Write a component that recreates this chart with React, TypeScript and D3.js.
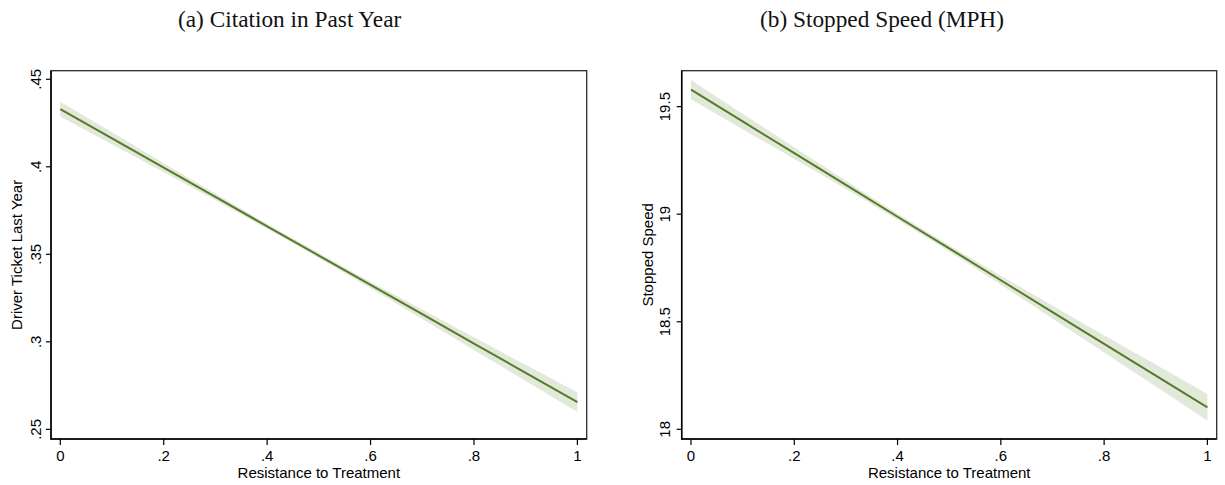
import React from "react";
import * as d3 from "d3";

// Predicted values with 95% confidence band, evaluated on a grid of x
const gridX = [0, 0.1, 0.2, 0.3, 0.4, 0.5, 0.6, 0.7, 0.8, 0.9, 1];

const ticketFit = [0.433, 0.4163, 0.3995, 0.3828, 0.366, 0.3493, 0.3325, 0.3158, 0.299, 0.2823, 0.2655];
const ticketLo = [0.4288, 0.4129, 0.3969, 0.3809, 0.3646, 0.3479, 0.3306, 0.3131, 0.2954, 0.2777, 0.2599];
const ticketHi = [0.4372, 0.4197, 0.4021, 0.3847, 0.3674, 0.3507, 0.3344, 0.3185, 0.3026, 0.2869, 0.2711];

const speedFit = [19.579, 19.431, 19.284, 19.136, 18.988, 18.841, 18.693, 18.545, 18.397, 18.25, 18.102];
const speedLo = [19.534, 19.395, 19.257, 19.117, 18.974, 18.826, 18.672, 18.515, 18.357, 18.199, 18.04];
const speedHi = [19.624, 19.467, 19.311, 19.155, 19.002, 18.856, 18.714, 18.575, 18.437, 18.301, 18.164];

const xTicks = [0, 0.2, 0.4, 0.6, 0.8, 1];
const xTickLabels = ["0", ".2", ".4", ".6", ".8", "1"];

const ticketTicks = [0.25, 0.3, 0.35, 0.4, 0.45];
const ticketTickLabels = [".25", ".3", ".35", ".4", ".45"];

const speedTicks = [18, 18.5, 19, 19.5];
const speedTickLabels = ["18", "18.5", "19", "19.5"];

const LINE = "#567b28";
const BAND = "#e2e9da";
const SANS = "'Liberation Sans', Arial, Helvetica, sans-serif";
const SERIF = "'Liberation Serif', 'Times New Roman', serif";
const FS = 15;

type PanelProps = {
  left: number;
  right: number;
  top: number;
  bottom: number;
  xDomain: [number, number];
  yDomain: [number, number];
  fit: number[];
  lo: number[];
  hi: number[];
  yTicks: number[];
  yTickLabels: string[];
  yTitle: string;
  yTickLabelX: number;
  yTitleX: number;
  title: string;
  titleX: number;
};

function Panel(p: PanelProps) {
  const x = d3.scaleLinear().domain(p.xDomain).range([p.left, p.right]);
  const y = d3.scaleLinear().domain(p.yDomain).range([p.bottom, p.top]);

  const rows = gridX.map((gx, i) => ({ x: gx, fit: p.fit[i], lo: p.lo[i], hi: p.hi[i] }));

  const band = d3
    .area<(typeof rows)[number]>()
    .x((d) => x(d.x))
    .y0((d) => y(d.lo))
    .y1((d) => y(d.hi))
    .curve(d3.curveMonotoneX)(rows) as string;

  const line = d3
    .line<(typeof rows)[number]>()
    .x((d) => x(d.x))
    .y((d) => y(d.fit))(rows) as string;

  const midY = (p.top + p.bottom) / 2;
  const midX = (p.left + p.right) / 2;

  return (
    <g>
      <text x={p.titleX} y={27} fontFamily={SERIF} fontSize={23.3} fill="#111">
        {p.title}
      </text>

      <path d={band} fill={BAND} stroke="none" />
      <path d={line} fill="none" stroke={LINE} strokeWidth={2} />

      {/* plot region frame */}
      <rect
        x={p.left}
        y={p.top}
        width={p.right - p.left}
        height={p.bottom - p.top}
        fill="none"
        stroke="#2a2a2a"
        strokeWidth={1.3}
      />
      <line x1={p.left} x2={p.left} y1={p.top} y2={p.bottom + 0.7} stroke="#000" strokeWidth={1.5} />
      <line x1={p.left} x2={p.right} y1={p.bottom} y2={p.bottom} stroke="#000" strokeWidth={1.5} />

      {/* y axis */}
      {p.yTicks.map((t, i) => (
        <g key={"y" + i}>
          <line x1={p.left - 5} x2={p.left} y1={y(t)} y2={y(t)} stroke="#000" strokeWidth={1.2} />
          <text
            transform={`translate(${p.yTickLabelX},${y(t)}) rotate(-90)`}
            textAnchor="middle"
            fontFamily={SANS}
            fontSize={FS}
            fill="#000"
          >
            {p.yTickLabels[i]}
          </text>
        </g>
      ))}
      <text
        transform={`translate(${p.yTitleX},${midY}) rotate(-90)`}
        textAnchor="middle"
        fontFamily={SANS}
        fontSize={FS}
        fill="#000"
      >
        {p.yTitle}
      </text>

      {/* x axis */}
      {xTicks.map((t, i) => (
        <g key={"x" + i}>
          <line x1={x(t)} x2={x(t)} y1={p.bottom} y2={p.bottom + 6} stroke="#000" strokeWidth={1.2} />
          <text x={x(t)} y={p.bottom + 22} textAnchor="middle" fontFamily={SANS} fontSize={FS} fill="#000">
            {xTickLabels[i]}
          </text>
        </g>
      ))}
      <text x={midX} y={478} textAnchor="middle" fontFamily={SANS} fontSize={FS} fill="#000">
        Resistance to Treatment
      </text>
    </g>
  );
}

export default function App() {
  return (
    <svg
      width={1225}
      height={485}
      style={{ position: "absolute", left: 0, top: 0, background: "#fff" }}
    >
      <rect width={1225} height={485} fill="#fff" />
      <Panel
        left={51}
        right={586.7}
        top={70.7}
        bottom={439}
        xDomain={[-0.018, 1.018]}
        yDomain={[0.2445, 0.4549]}
        fit={ticketFit}
        lo={ticketLo}
        hi={ticketHi}
        yTicks={ticketTicks}
        yTickLabels={ticketTickLabels}
        yTitle="Driver Ticket Last Year"
        yTickLabelX={40.5}
        yTitleX={22}
        title="(a) Citation in Past Year"
        titleX={178}
      />
      <Panel
        left={681.7}
        right={1216.7}
        top={70.7}
        bottom={439}
        xDomain={[-0.018, 1.018]}
        yDomain={[17.955, 19.667]}
        fit={speedFit}
        lo={speedLo}
        hi={speedHi}
        yTicks={speedTicks}
        yTickLabels={speedTickLabels}
        yTitle="Stopped Speed"
        yTickLabelX={670}
        yTitleX={652.5}
        title="(b) Stopped Speed (MPH)"
        titleX={760}
      />
    </svg>
  );
}
